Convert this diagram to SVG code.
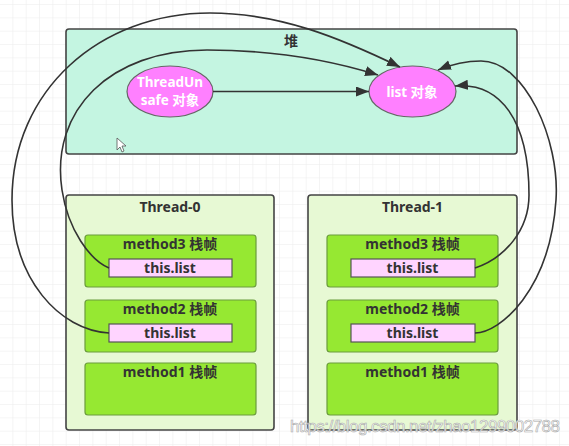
<svg xmlns="http://www.w3.org/2000/svg" width="569" height="446" viewBox="0 0 569 446">
<style>
.t{font-family:"Noto Sans","Noto Sans CJK SC",sans-serif;font-weight:bold;text-anchor:middle}
.lbl{font-size:14px;fill:#333}
.wt{font-size:13.5px;fill:#fff}
.thread{fill:#e7f9d4;stroke:#444;stroke-width:1.6}
.frame{fill:#96e832;stroke:#6b9c3c;stroke-width:1.2}
.ref{fill:#ffd4ff;stroke:#555;stroke-width:1.2}
.obj{fill:#ff80ff;stroke:#666;stroke-width:1.2}
.conn{fill:none;stroke:#333;stroke-width:1.6}
</style>
<defs>
<pattern id="grid" width="13.333" height="13.333" patternUnits="userSpaceOnUse" x="0" y="5">
<path d="M13.333 0V13.333M0 13.333H13.333" fill="none" stroke="#ebebeb" stroke-width="1"/>
</pattern>
<marker id="arr" markerUnits="userSpaceOnUse" markerWidth="15" markerHeight="12" refX="13" refY="5" orient="auto">
<path d="M0,0 L13,5 L0,10 Z" fill="#333"/>
</marker>
</defs>
<rect width="569" height="446" fill="#fff"/>
<rect width="569" height="446" fill="url(#grid)"/>

<g id="heap">
<rect x="66" y="29" width="451" height="125" rx="3" fill="#c4f5e1" stroke="#444" stroke-width="1.6"/>
<text class="t lbl" x="291" y="46">堆</text>
</g>
<g id="threadunsafe">
<ellipse cx="170" cy="91.5" rx="43" ry="25.5" class="obj"/>
<text class="t wt" x="170" y="87">ThreadUn</text>
<text class="t wt" x="170" y="105">safe 对象</text>
</g>
<g id="list">
<ellipse cx="412.5" cy="91.5" rx="43.5" ry="25.5" class="obj"/>
<text class="t wt" x="412" y="97">list 对象</text>
</g>

<g id="thread0">
<rect x="66" y="195" width="208" height="235" rx="3" class="thread"/>
<text class="t lbl" x="170" y="212">Thread-0</text>
</g>
<g id="t0-method3">
<rect x="85" y="235" width="171" height="52" rx="3" class="frame"/>
<text class="t lbl" x="170" y="249">method3 栈帧</text>
<rect x="109" y="259" width="123" height="18" class="ref"/>
<text class="t lbl" x="170" y="273">this.list</text>
</g>
<g id="t0-method2">
<rect x="85" y="300" width="171" height="52" rx="3" class="frame"/>
<text class="t lbl" x="170" y="314">method2 栈帧</text>
<rect x="109" y="324" width="123" height="18" class="ref"/>
<text class="t lbl" x="170" y="338">this.list</text>
</g>
<g id="t0-method1">
<rect x="85" y="363" width="171" height="52" rx="3" class="frame"/>
<text class="t lbl" x="170" y="377">method1 栈帧</text>
</g>

<g id="thread1">
<rect x="308" y="195" width="209" height="235" rx="3" class="thread"/>
<text class="t lbl" x="412.5" y="212">Thread-1</text>
</g>
<g id="t1-method3">
<rect x="327" y="235" width="171" height="52" rx="3" class="frame"/>
<text class="t lbl" x="412.5" y="249">method3 栈帧</text>
<rect x="351" y="259" width="124" height="18" class="ref"/>
<text class="t lbl" x="412.5" y="273">this.list</text>
</g>
<g id="t1-method2">
<rect x="327" y="300" width="171" height="52" rx="3" class="frame"/>
<text class="t lbl" x="412.5" y="314">method2 栈帧</text>
<rect x="351" y="324" width="124" height="18" class="ref"/>
<text class="t lbl" x="412.5" y="338">this.list</text>
</g>
<g id="t1-method1">
<rect x="327" y="363" width="171" height="52" rx="3" class="frame"/>
<text class="t lbl" x="412.5" y="377">method1 栈帧</text>
</g>

<g id="connectors" class="conn">
<path class="conn" marker-end="url(#arr)" d="M213,91.5 L369,91.5"/>
<path class="conn" marker-end="url(#arr)" d="M109,268 C90,260 68,230 62,190 C50,110 110,50 207,50 C270,50 330,60 378,75"/>
<path class="conn" marker-end="url(#arr)" d="M109,333 C60,330 12,280 12,200 C12,90 100,13 210,13 C280,13 340,38 400,67"/>
<path class="conn" marker-end="url(#arr)" d="M475,268 C505,258 529,230 529,195 C529,120 500,82 455,86"/>
<path class="conn" marker-end="url(#arr)" d="M475,333 C500,333 550,290 556,200 C560,140 525,61 481,61 C465,61 450,65 438,70"/>
</g>

<path d="M117,138 L117,150 L120,147 L122,152 L124,151 L122,146 L126,146 Z" fill="#fff" stroke="#555" stroke-width="0.8"/>
<text x="290" y="432" font-family="Liberation Sans, sans-serif" font-size="17" textLength="270" fill="#fff" fill-opacity="0.85" stroke="#aaa" stroke-width="0.6">https://blog.csdn.net/zhao1299002788</text>
</svg>
